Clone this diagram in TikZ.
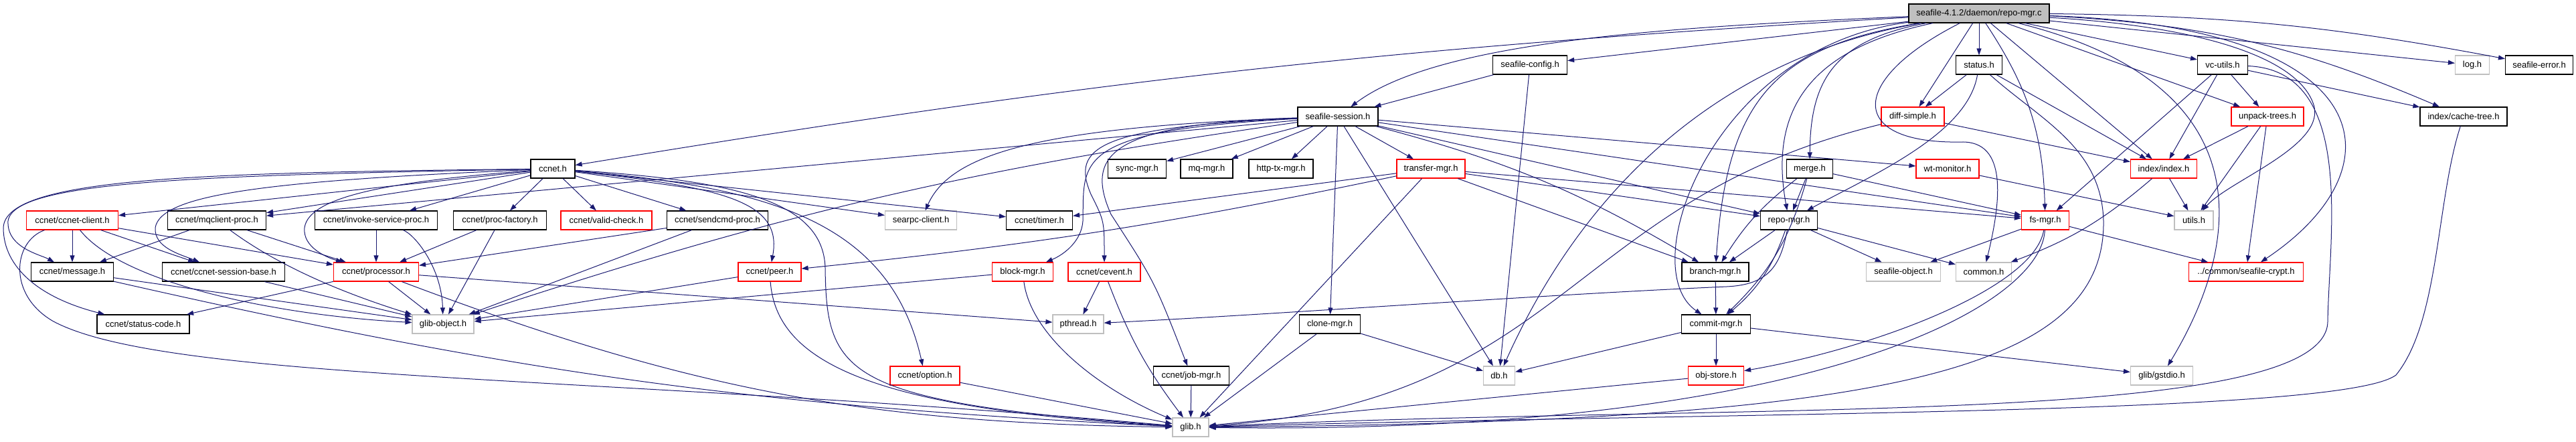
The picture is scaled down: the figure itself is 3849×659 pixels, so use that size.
\documentclass[tikz,border=0pt]{standalone}
\usepackage{fontspec}
\setmainfont{Liberation Sans}
\usetikzlibrary{arrows.meta}
\definecolor{dnavy}{RGB}{25,25,112}
\definecolor{dred}{RGB}{255,0,0}
\definecolor{dgray}{RGB}{191,191,191}

\begin{document}
\begin{tikzpicture}[x=0.2pt,y=-0.2pt,font=\fontsize{2.6pt}{3pt}\selectfont,
  hdr/.style={draw=black,line width=0.24pt,fill=white,minimum height=5.6pt,inner sep=0pt},
  bw/.style={minimum width=#1*0.2pt},
  hdrred/.style={hdr,draw=dred},
  hdrext/.style={hdr,draw=dgray},
  srcfile/.style={hdr,fill=dgray},
  inc/.style={-{Triangle[length=2pt,width=1.4pt]},line width=0.2pt,dnavy}]
\useasboundingbox (0,0) rectangle (3849,659);
\node[srcfile,bw=210] (root) at (2957,20) {seafile-4.1.2/daemon/repo-mgr.c};
\node[hdr,bw=111]    (cfg)    at (2286,97)  {seafile-config.h};
\node[hdr,bw=69]     (status) at (2957,97)  {status.h};
\node[hdr,bw=75]     (vcu)    at (3321,97)  {vc-utils.h};
\node[hdrext,bw=51]  (log)    at (3694,97)  {log.h};
\node[hdr,bw=101]    (serr)   at (3794,97)  {seafile-error.h};
\node[hdr,bw=120]    (sess)   at (1999,174) {seafile-session.h};
\node[hdrred,bw=94]  (diff)   at (2858,174) {diff-simple.h};
\node[hdrred,bw=108] (unp)    at (3388,174) {unpack-trees.h};
\node[hdr,bw=130]    (ctree)  at (3681,174) {index/cache-tree.h};
\node[hdr,bw=66]     (ccnet)  at (826,252)  {ccnet.h};
\node[hdr,bw=87]     (sync)   at (1699,252) {sync-mgr.h};
\node[hdr,bw=78]     (mq)     at (1803,252) {mq-mgr.h};
\node[hdr,bw=96]     (http)   at (1914,252) {http-tx-mgr.h};
\node[hdrred,bw=102] (xfer)   at (2138,252) {transfer-mgr.h};
\node[hdr,bw=69]     (merge)  at (2704,252) {merge.h};
\node[hdrred,bw=94]  (wtm)    at (2910,252) {wt-monitor.h};
\node[hdrred,bw=99]  (idx)    at (3233,252) {index/index.h};
\node[hdrred,bw=137] (cli)    at (108,329)  {ccnet/ccnet-client.h};
\node[hdr,bw=147]    (mqc)    at (324,329)  {ccnet/mqclient-proc.h};
\node[hdr,bw=183]    (inv)    at (562,329)  {ccnet/invoke-service-proc.h};
\node[hdr,bw=139]    (pf)     at (747,329)  {ccnet/proc-factory.h};
\node[hdrred,bw=136] (vc)     at (906,329)  {ccnet/valid-check.h};
\node[hdr,bw=151]    (scp)    at (1072,329) {ccnet/sendcmd-proc.h};
\node[hdrext,bw=107] (searpc) at (1376,329) {searpc-client.h};
\node[hdr,bw=99]     (timer)  at (1553,329) {ccnet/timer.h};
\node[hdr,bw=85]     (repo)   at (2673,329) {repo-mgr.h};
\node[hdrred,bw=71]  (fs)     at (3056,329) {fs-mgr.h};
\node[hdrext,bw=58]  (utils)  at (3278,329) {utils.h};
\node[hdr,bw=123]    (msg)    at (108,406)  {ccnet/message.h};
\node[hdr,bw=183]    (csb)    at (334,406)  {ccnet/ccnet-session-base.h};
\node[hdrred,bw=127] (proc)   at (562,406)  {ccnet/processor.h};
\node[hdrred,bw=94]  (peer)   at (1150,406) {ccnet/peer.h};
\node[hdrred,bw=91]  (block)  at (1528,406) {block-mgr.h};
\node[hdrred,bw=108] (cevent) at (1650,406) {ccnet/cevent.h};
\node[hdr,bw=100]    (branch) at (2563,406) {branch-mgr.h};
\node[hdrext,bw=111] (sobj)   at (2844,406) {seafile-object.h};
\node[hdrext,bw=83]  (common) at (2964,406) {common.h};
\node[hdrred,bw=171] (crypt)  at (3356,406) {../common/seafile-crypt.h};
\node[hdr,bw=138]    (scode)  at (214,484)  {ccnet/status-code.h};
\node[hdrext,bw=92]  (gobj)   at (662,484)  {glib-object.h};
\node[hdrext,bw=76]  (pthread) at (1611,484) {pthread.h};
\node[hdr,bw=91]     (clone)  at (1987,484) {clone-mgr.h};
\node[hdr,bw=103]    (commit) at (2564,484) {commit-mgr.h};
\node[hdrred,bw=104] (option) at (1382,561) {ccnet/option.h};
\node[hdr,bw=113]    (job)    at (1780,561) {ccnet/job-mgr.h};
\node[hdrext,bw=47]  (db)     at (2240,561) {db.h};
\node[hdrred,bw=83]  (obj)    at (2564,561) {obj-store.h};
\node[hdrext,bw=93]  (gstdio) at (3230,561) {glib/gstdio.h};
\node[hdrext,bw=54]  (glib)   at (1779,638) {glib.h};
\draw[inc] (root) to[bend right=3] (ccnet);
\draw[inc] (root) .. controls (2500,40) and (2150,60) .. (sess);
\draw[inc] (root) -- (cfg); \draw[inc] (root) -- (status); \draw[inc] (root) -- (diff);
\draw[inc] (root) .. controls (2740,60) and (2705,120) .. (merge);
\draw[inc] (root) .. controls (2720,70) and (2640,150) .. (repo);
\draw[inc] (root) to[bend left=16] (fs);
\draw[inc] (root) .. controls (2760,120) and (2760,215) .. (2930,212) .. controls (3000,210) and (2990,300) .. (common);
\draw[inc] (root) -- (idx); \draw[inc] (root) -- (vcu); \draw[inc] (root) -- (unp);
\draw[inc] (root) .. controls (3300,40) and (3440,90) .. (3458,160) .. controls (3470,220) and (3330,270) .. (utils);
\draw[inc] (root) -- (log); \draw[inc] (root) to[bend left=5] (serr);
\draw[inc] (root) to[bend left=10] (ctree);
\draw[inc] (root) .. controls (3560,40) and (3590,250) .. (crypt);
\draw[inc] (root) .. controls (3400,130) and (3340,380) .. (gstdio);
\draw[inc] (root) .. controls (2600,80) and (2380,250) .. (db);
\draw[inc] (root) .. controls (2650,70) and (2580,150) .. (branch);
\draw[inc] (root) .. controls (2560,70) and (2440,400) .. (commit);
\draw[inc] (cfg) -- (sess); \draw[inc] (cfg) -- (db);
\draw[inc] (status) -- (diff); \draw[inc] (status) -- (idx);
\draw[inc] (status) .. controls (2940,200) and (2800,260) .. (repo);
\draw[inc] (status) .. controls (3050,180) and (3140,220) .. (3143,330) .. controls (3146,560) and (2800,630) .. (glib);
\draw[inc] (vcu) -- (idx); \draw[inc] (vcu) -- (unp); \draw[inc] (vcu) -- (fs); \draw[inc] (vcu) -- (ctree);
\draw[inc] (vcu) .. controls (3520,105) and (3480,350) .. (3478,480) .. controls (3476,640) and (2600,600) .. (glib);
\draw[inc] (sess) -- (mqc);
\draw[inc] (sess) .. controls (1550,190) and (1420,230) .. (searpc);
\draw[inc] (sess) -- (sync); \draw[inc] (sess) -- (mq); \draw[inc] (sess) -- (http);
\draw[inc] (sess) -- (xfer); \draw[inc] (sess) -- (wtm); \draw[inc] (sess) -- (fs);
\draw[inc] (sess) -- (repo); \draw[inc] (sess) to[bend left=8] (branch);
\draw[inc] (sess) -- (clone); \draw[inc] (sess) -- (db);
\draw[inc] (sess) .. controls (1600,195) and (1620,240) .. (1618,330) .. controls (1616,360) and (1590,380) .. (block);
\draw[inc] (sess) .. controls (1640,190) and (1600,220) .. (1630,290) .. controls (1650,330) .. (cevent);
\draw[inc] (sess) .. controls (1660,185) and (1620,230) .. (1660,320) .. controls (1725,420) .. (job);
\draw[inc] (sess) to[bend right=5] (gobj);
\draw[inc] (diff) -- (idx);
\draw[inc] (diff) .. controls (2340,300) and (2340,600) .. (glib);
\draw[inc] (unp) -- (idx); \draw[inc] (unp) -- (utils); \draw[inc] (unp) -- (crypt);
\draw[inc] (ctree) .. controls (3640,300) and (3645,480) .. (3580,560) .. controls (3500,620) and (2600,615) .. (glib);
\draw[inc] (ccnet) -- (cli); \draw[inc] (ccnet) -- (mqc); \draw[inc] (ccnet) -- (inv);
\draw[inc] (ccnet) -- (pf); \draw[inc] (ccnet) -- (vc); \draw[inc] (ccnet) -- (scp);
\draw[inc] (ccnet) -- (searpc); \draw[inc] (ccnet) -- (timer);
\draw[inc] (ccnet) .. controls (1080,280) and (1170,300) .. (peer);
\draw[inc] (ccnet) .. controls (1150,280) and (1330,330) .. (option);
\draw[inc] (ccnet) .. controls (1100,270) and (1230,300) .. (1233,400) .. controls (1235,560) and (1260,600) .. (glib);
\draw[inc] (ccnet) .. controls (300,262) and (20,270) .. (12,330) .. controls (10,370) and (60,380) .. (msg);
\draw[inc] (ccnet) .. controls (300,258) and (8,265) .. (5,340) .. controls (5,400) and (60,445) .. (scode);
\draw[inc] (ccnet) .. controls (400,270) and (240,290) .. (232,340) .. controls (230,370) and (270,380) .. (csb);
\draw[inc] (ccnet) .. controls (600,270) and (462,290) .. (455,340) .. controls (452,370) and (490,385) .. (proc);
\draw[inc] (xfer) -- (timer); \draw[inc] (xfer) to[bend left=3] (peer);
\draw[inc] (xfer) -- (fs); \draw[inc] (xfer) -- (repo); \draw[inc] (xfer) -- (branch); \draw[inc] (xfer) -- (glib);
\draw[inc] (merge) -- (repo); \draw[inc] (merge) -- (fs);
\draw[inc] (merge) to[bend right=10] (branch); \draw[inc] (merge) to[bend left=15] (commit);
\draw[inc] (wtm) -- (utils);
\draw[inc] (idx) -- (utils); \draw[inc] (idx) to[bend left=10] (common);
\draw[inc] (cli) -- (msg); \draw[inc] (cli) -- (csb); \draw[inc] (cli) -- (proc);
\draw[inc] (cli) .. controls (180,420) and (400,470) .. (gobj);
\draw[inc] (cli) .. controls (20,360) and (10,440) .. (80,480) .. controls (250,570) and (900,560) .. (glib);
\draw[inc] (mqc) -- (msg); \draw[inc] (mqc) -- (proc);
\draw[inc] (mqc) .. controls (420,400) and (520,440) .. (gobj);
\draw[inc] (inv) -- (proc); \draw[inc] (inv) .. controls (620,350) and (660,400) .. (gobj);
\draw[inc] (pf) -- (proc); \draw[inc] (pf) -- (gobj);
\draw[inc] (scp) -- (proc); \draw[inc] (scp) -- (gobj);
\draw[inc] (repo) -- (branch); \draw[inc] (repo) to[bend left=15] (commit);
\draw[inc] (repo) -- (sobj); \draw[inc] (repo) -- (common);
\draw[inc] (repo) .. controls (2660,400) and (2640,425) .. (2580,428) .. controls (2300,440) and (1900,470) .. (pthread);
\draw[inc] (fs) -- (sobj); \draw[inc] (fs) -- (crypt);
\draw[inc] (fs) .. controls (3040,430) and (2800,520) .. (obj);
\draw[inc] (fs) .. controls (3050,460) and (2700,650) .. (glib);
\draw[inc] (msg) -- (gobj); \draw[inc] (msg) to[bend right=5] (glib);
\draw[inc] (csb) -- (gobj);
\draw[inc] (proc) -- (gobj); \draw[inc] (proc) -- (scode); \draw[inc] (proc) -- (pthread);
\draw[inc] (proc) to[bend right=10] (glib);
\draw[inc] (peer) -- (gobj); \draw[inc] (peer) .. controls (1160,540) and (1300,610) .. (glib);
\draw[inc] (block) -- (gobj); \draw[inc] (block) .. controls (1540,500) and (1640,580) .. (glib);
\draw[inc] (cevent) -- (pthread); \draw[inc] (cevent) to[bend right=8] (glib);
\draw[inc] (branch) -- (commit);
\draw[inc] (clone) -- (db); \draw[inc] (clone) -- (glib);
\draw[inc] (commit) -- (db); \draw[inc] (commit) -- (obj); \draw[inc] (commit) -- (gstdio);
\draw[inc] (option) -- (glib); \draw[inc] (job) -- (glib); \draw[inc] (obj) -- (glib);
\end{tikzpicture}
\end{document}
